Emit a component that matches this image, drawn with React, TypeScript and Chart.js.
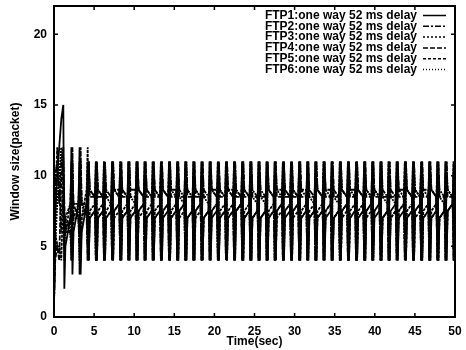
import React, { useEffect, useRef } from "react";
import { Chart, registerables } from "chart.js";

Chart.register(...registerables);

// Sample times (sec): dense around each window cut, sparse in between
const TIME = [
  0, 0.15, 0.40, 0.65, 0.91,
  1.16, 1.29, 1.42, 2.04, 2.17, 2.30, 2.43, 3.05, 3.19, 3.32, 3.45, 4.07, 4.20, 4.33, 4.46, 5.08,
  5.22, 5.35, 5.48, 6.10, 6.23, 6.36, 6.49, 7.11, 7.24, 7.37, 7.50, 8.12, 8.26, 8.39, 8.52, 9.14,
  9.27, 9.40, 9.53, 10.15, 10.29, 10.42, 10.55, 11.17, 11.30, 11.43, 11.56, 12.18, 12.31, 12.44, 12.57, 13.19,
  13.33, 13.46, 13.59, 14.21, 14.34, 14.47, 14.60, 15.22, 15.36, 15.49, 15.62, 16.24, 16.37, 16.50, 16.63, 17.25,
  17.38, 17.51, 17.64, 18.26, 18.40, 18.53, 18.66, 19.28, 19.41, 19.54, 19.67, 20.29, 20.43, 20.56, 20.69, 21.31,
  21.44, 21.57, 21.70, 22.32, 22.45, 22.58, 22.71, 23.33, 23.47, 23.60, 23.73, 24.35, 24.48, 24.61, 24.74, 25.36,
  25.50, 25.63, 25.76, 26.38, 26.51, 26.64, 26.77, 27.39, 27.52, 27.65, 27.78, 28.40, 28.54, 28.67, 28.80, 29.42,
  29.55, 29.68, 29.81, 30.43, 30.57, 30.70, 30.83, 31.45, 31.58, 31.71, 31.84, 32.46, 32.59, 32.72, 32.85, 33.47,
  33.61, 33.74, 33.87, 34.49, 34.62, 34.75, 34.88, 35.50, 35.64, 35.77, 35.90, 36.52, 36.65, 36.78, 36.91, 37.53,
  37.66, 37.79, 37.92, 38.54, 38.68, 38.81, 38.94, 39.56, 39.69, 39.82, 39.95, 40.57, 40.71, 40.84, 40.97, 41.59,
  41.72, 41.85, 41.98, 42.60, 42.73, 42.86, 42.99, 43.61, 43.75, 43.88, 44.01, 44.63, 44.76, 44.89, 45.02, 45.64,
  45.78, 45.91, 46.04, 46.66, 46.79, 46.92, 47.05, 47.67, 47.80, 47.93, 48.06, 48.68, 48.82, 48.95, 49.08, 49.70,
  49.83, 49.96,
];

// Window sizes (packets)
const FTP1 = [
  1, 7, 10, 12, 14, 15, 2, 5, 7, 12, 3, 6, 8, 12, 3, 6, 8, 11, 4, 7, 7.5,
  11,4,7,7.5, 11,4,7,7.5, 11,4,7.5,8, 11,4,7,7.5,
  11,4,7,7.5, 11,4,7.5,8, 11,4,7,7.5, 11,4,7,7.5,
  11,4,7,7.5, 11,4,7,7.5, 11,4,7.5,8, 11,4,7,7.5,
  11,4,7.5,8, 11,4,7,7.5, 11,4,7,7.5, 11,4,7,7.5,
  11,4,7,7.5, 11,4,7.5,8, 11,4,7,7.5, 11,4,7,7.5,
  11,4,7,7.5, 11,4,7,7.5, 11,4,7.5,8, 11,4,7,7.5,
  11,4,7.5,8, 11,4,7,7.5, 11,4,7,7.5, 11,4,7,7.5,
  11,4,7,7.5, 11,4,7,7.5, 11,4,7.5,8, 11,4,7,7.5,
  11,4,7,7.5, 11,4,7.5,8, 11,4,7,7.5, 11,4,7,7.5,
  11,4,7.5,8, 11,4,7,7.5, 11,4,7,7.5, 11,4,7.5,8,
  11,4,7,7.5, 11,4,7,7.5, 11,4,7,7.5, 11,4,7.5,8,
  11, 4,
];

const FTP2 = [
  1, 10, 11, 8, 11, 12, 5, 6, 7, 4, 12, 7, 7, 4, 11, 8, 7, 4, 11, 9, 8.5,
  4,11,9,8.5, 4,11,9,8.5, 4,11,9,9, 4,11,9,8.5,
  4,11,9,9, 4,11,9,8.5, 4,11,9,8.5, 4,11,9,8.5,
  4,11,9,8.5, 4,11,9,9, 4,11,9,8.5, 4,11,9,8.5,
  4,11,9,8.5, 4,11,9,8.5, 4,11,9,9, 4,11,9,8.5,
  4,11,9,9, 4,11,9,8.5, 4,11,9,8.5, 4,11,9,8.5,
  4,11,9,8.5, 4,11,9,8.5, 4,11,9,9, 4,11,9,8.5,
  4,11,9,8.5, 4,11,9,9, 4,11,9,8.5, 4,11,9,8.5,
  4,11,9,9, 4,11,9,8.5, 4,11,9,8.5, 4,11,9,9,
  4,11,9,8.5, 4,11,9,8.5, 4,11,9,8.5, 4,11,9,8.5,
  4,11,9,8.5, 4,11,9,9, 4,11,9,8.5, 4,11,9,8.5,
  4,11,9,9, 4,11,9,8.5, 4,11,9,8.5, 4,11,9,8.5,
  4, 11,
];

const FTP3 = [
  1, 6, 5, 5, 4, 9, 6, 7, 8, 11, 4, 8, 8, 11, 4, 7, 9, 12, 4, 7.5, 8,
  11,4,7.5,8, 11,4,7,7.5, 11,4,7.5,8, 11,4,7.5,8,
  11,4,7.5,8, 11,4,7.5,8, 11,4,7,7.5, 11,4,7.5,8,
  11,4,7.5,8, 11,4,7.5,8, 11,4,7.5,8, 11,4,7,7.5,
  11,4,7.5,8, 11,4,7,7.5, 11,4,7.5,8, 11,4,7.5,8,
  11,4,7.5,8, 11,4,7.5,8, 11,4,7.5,8, 11,4,7,7.5,
  11,4,7,7.5, 11,4,7.5,8, 11,4,7.5,8, 11,4,7.5,8,
  11,4,7.5,8, 11,4,7.5,8, 11,4,7,7.5, 11,4,7.5,8,
  11,4,7.5,8, 11,4,7,7.5, 11,4,7.5,8, 11,4,7.5,8,
  11,4,7.5,8, 11,4,7.5,8, 11,4,7.5,8, 11,4,7,7.5,
  11,4,7,7.5, 11,4,7.5,8, 11,4,7.5,8, 11,4,7.5,8,
  11,4,7.5,8, 11,4,7.5,8, 11,4,7,7.5, 11,4,7.5,8,
  11, 4,
];

const FTP4 = [
  1, 4, 5, 4, 10, 11, 8, 6, 6, 5, 11, 8, 7, 5, 12, 8, 8, 5, 11, 8.5, 8.5,
  4,11,8.5,8.5, 4,11,8.5,8.5, 4,11,9,8.5, 4,11,8.5,8.5,
  4,11,8.5,8.5, 4,11,9,8.5, 4,11,8.5,8.5, 4,11,8.5,8.5,
  4,11,9,8.5, 4,11,8.5,8.5, 4,11,8.5,8.5, 4,11,8.5,8.5,
  4,11,8.5,8.5, 4,11,8.5,8.5, 4,11,9,8.5, 4,11,8.5,8.5,
  4,11,9,8.5, 4,11,8.5,8.5, 4,11,8.5,8.5, 4,11,8.5,8.5,
  4,11,8.5,8.5, 4,11,9,8.5, 4,11,8.5,8.5, 4,11,8.5,8.5,
  4,11,8.5,8.5, 4,11,8.5,8.5, 4,11,8.5,8.5, 4,11,9,8.5,
  4,11,8.5,8.5, 4,11,8.5,8.5, 4,11,9,8.5, 4,11,8.5,8.5,
  4,11,9,8.5, 4,11,8.5,8.5, 4,11,8.5,8.5, 4,11,8.5,8.5,
  4,11,8.5,8.5, 4,11,8.5,8.5, 4,11,9,8.5, 4,11,8.5,8.5,
  4,11,8.5,8.5, 4,11,9,8.5, 4,11,8.5,8.5, 4,11,8.5,8.5,
  4, 11,
];

const FTP5 = [
  1, 8, 12, 9, 6, 11, 7, 6, 8, 10, 5, 7, 8, 10, 4, 7, 8, 10, 4, 7, 7.5,
  10,4,7,7.5, 10,5,7.5,8, 10,4,7,7.5, 10,4,7,7.5,
  10,4,7,7.5, 10,4,7,7.5, 10,5,7.5,8, 10,4,7,7.5,
  10,5,7.5,8, 10,4,7,7.5, 10,4,7,7.5, 10,4,7,7.5,
  10,4,7,7.5, 10,4,7,7.5, 10,5,7.5,8, 10,4,7,7.5,
  10,4,7,7.5, 10,5,7.5,8, 10,4,7,7.5, 10,4,7,7.5,
  10,4,7,7.5, 10,4,7,7.5, 10,4,7,7.5, 10,5,7.5,8,
  10,4,7,7.5, 10,4,7,7.5, 10,5,7.5,8, 10,4,7,7.5,
  10,5,7.5,8, 10,4,7,7.5, 10,4,7,7.5, 10,4,7,7.5,
  10,4,7,7.5, 10,4,7,7.5, 10,5,7.5,8, 10,4,7,7.5,
  10,4,7,7.5, 10,5,7.5,8, 10,4,7,7.5, 10,4,7,7.5,
  10,4,7,7.5, 10,4,7,7.5, 10,4,7,7.5, 10,5,7.5,8,
  10, 4,
];

const FTP6 = [
  1, 5, 8, 10, 12, 10, 4, 7, 6, 4, 10, 8, 8, 3, 10, 8, 8, 4, 11, 9, 8.5,
  4,10,9,8.5, 4,10,8.5,8, 4,10,9,8.5, 4,10,9,8.5,
  4,10,8.5,8, 4,10,9,8.5, 4,10,9,8.5, 4,10,9,8.5,
  4,10,9,8.5, 4,10,9,8.5, 4,10,8.5,8, 4,10,9,8.5,
  4,10,9,8.5, 4,10,8.5,8, 4,10,9,8.5, 4,10,9,8.5,
  4,10,9,8.5, 4,10,9,8.5, 4,10,9,8.5, 4,10,8.5,8,
  4,10,8.5,8, 4,10,9,8.5, 4,10,9,8.5, 4,10,9,8.5,
  4,10,9,8.5, 4,10,9,8.5, 4,10,8.5,8, 4,10,9,8.5,
  4,10,9,8.5, 4,10,8.5,8, 4,10,9,8.5, 4,10,9,8.5,
  4,10,9,8.5, 4,10,9,8.5, 4,10,9,8.5, 4,10,8.5,8,
  4,10,8.5,8, 4,10,9,8.5, 4,10,9,8.5, 4,10,9,8.5,
  4,10,9,8.5, 4,10,9,8.5, 4,10,8.5,8, 4,10,9,8.5,
  4, 10,
];

const SERIES = [FTP1, FTP2, FTP3, FTP4, FTP5, FTP6];
const SERIES_LABELS = [
  "FTP1:one way 52 ms delay",
  "FTP2:one way 52 ms delay",
  "FTP3:one way 52 ms delay",
  "FTP4:one way 52 ms delay",
  "FTP5:one way 52 ms delay",
  "FTP6:one way 52 ms delay",
];
const X_TICKS = [0, 5, 10, 15, 20, 25, 30, 35, 40, 45, 50];
const Y_TICKS = [0, 5, 10, 15, 20];
const X_TITLE = "Time(sec)";
const Y_TITLE = "Window size(packet)";

const LEGEND_DASHES: number[][] = [[], [6, 2, 2, 2], [2, 2], [5, 2], [3, 2], [1, 2]];
const DATA_DASHES: number[][] = [[], [6, 1, 2, 1], [3, 1], [5, 1.5], [3, 1.5], [2, 1]];
const FONT_FAMILY = '"Liberation Sans", Arial, Helvetica, sans-serif';

const framePlugin = {
  id: "frameAndLegend",
  afterDraw(chart: any) {
    const { ctx, chartArea } = chart;
    const { left, right, top, bottom } = chartArea;
    const xs = chart.scales.x;
    const ys = chart.scales.y;
    ctx.save();
    ctx.strokeStyle = "#000";
    ctx.setLineDash([]);
    ctx.lineWidth = 2;
    ctx.strokeRect(left, top, right - left, bottom - top);
    ctx.lineWidth = 1.5;
    ctx.beginPath();
    X_TICKS.forEach((v) => {
      const px = xs.getPixelForValue(v);
      ctx.moveTo(px, bottom);
      ctx.lineTo(px, bottom - 4);
      ctx.moveTo(px, top);
      ctx.lineTo(px, top + 4);
    });
    Y_TICKS.forEach((v) => {
      const py = ys.getPixelForValue(v);
      ctx.moveTo(left, py);
      ctx.lineTo(left + 4, py);
      ctx.moveTo(right, py);
      ctx.lineTo(right - 4, py);
    });
    ctx.stroke();

    // legend
    ctx.font = `bold 12px ${FONT_FAMILY}`;
    ctx.fillStyle = "#000";
    ctx.textAlign = "right";
    ctx.textBaseline = "middle";
    chart.data.datasets.forEach((ds: any, i: number) => {
      const yy = top + 9.5 + i * 10.8;
      ctx.fillText(ds.label, right - 38, yy);
      ctx.lineWidth = 1.5;
      ctx.setLineDash(LEGEND_DASHES[i]);
      ctx.beginPath();
      ctx.moveTo(right - 32, yy);
      ctx.lineTo(right - 9, yy);
      ctx.stroke();
    });
    ctx.restore();
  },
};

export default function App() {
  const canvasRef = useRef<HTMLCanvasElement | null>(null);

  useEffect(() => {
    const canvas = canvasRef.current;
    if (!canvas) return;
    const tickFont = { family: FONT_FAMILY, size: 12, weight: "bold" as const };
    const chart = new Chart(canvas, {
      type: "line",
      data: {
        datasets: SERIES.map((vals, i) => ({
          label: SERIES_LABELS[i],
          data: TIME.map((t, j) => ({ x: t, y: vals[j] })),
          borderColor: "#000",
          backgroundColor: "#000",
          borderWidth: 1.8,
          borderDash: DATA_DASHES[i],
          pointRadius: 0,
          fill: false,
          tension: 0,
        })),
      },
      options: {
        animation: false,
        responsive: false,
        events: [],
        layout: { padding: { top: 6, right: 11, left: 0, bottom: 0 } },
        plugins: {
          legend: { display: false },
          tooltip: { enabled: false },
        },
        scales: {
          x: {
            type: "linear",
            min: 0,
            max: 50,
            grid: { display: false, drawTicks: false },
            border: { display: false },
            ticks: {
              stepSize: 5,
              color: "#000",
              font: tickFont,
              padding: 7,
              maxRotation: 0,
            },
            title: {
              display: true,
              text: X_TITLE,
              color: "#000",
              font: tickFont,
              padding: { top: 0, bottom: 1 },
            },
            afterFit: (s: any) => {
              s.height = 33;
              s.paddingLeft = 0;
              s.paddingRight = 0;
            },
          },
          y: {
            type: "linear",
            min: 0,
            max: 22,
            grid: { display: false, drawTicks: false },
            border: { display: false },
            ticks: {
              stepSize: 5,
              includeBounds: false,
              color: "#000",
              font: tickFont,
              padding: 7,
            },
            title: {
              display: true,
              text: Y_TITLE,
              color: "#000",
              font: tickFont,
              padding: { top: 8, bottom: 0 },
            },
            afterFit: (s: any) => {
              s.width = 54;
              s.paddingTop = 0;
              s.paddingBottom = 0;
            },
          },
        },
      },
      plugins: [framePlugin],
    });
    return () => chart.destroy();
  }, []);

  return (
    <div style={{ position: "fixed", left: 0, top: 0, width: 466, height: 350, background: "#fff" }}>
      <canvas ref={canvasRef} width={466} height={350} style={{ display: "block" }} />
    </div>
  );
}
